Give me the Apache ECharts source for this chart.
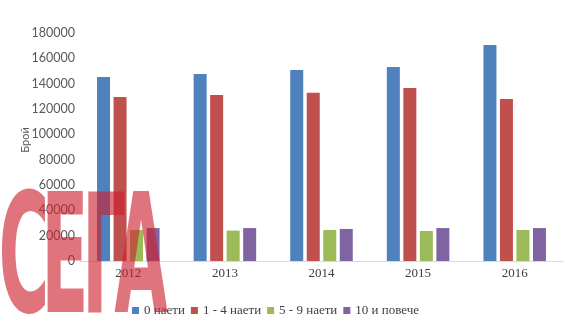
<!DOCTYPE html>
<html>
<head>
<meta charset="utf-8">
<script src="https://cdn.jsdelivr.net/npm/echarts@6/dist/echarts.min.js"></script>
<style>html,body{margin:0;padding:0;background:#fff;}#c{width:588px;height:322px;}</style>
</head>
<body>
<div id="c"></div>
<script>
var categories = ['2012', '2013', '2014', '2015', '2016'];
var seriesNames = ['0 наети', '1 - 4 наети', '5 - 9 наети', '10 и повече'];
var s0 = [145300, 147600, 150800, 153200, 170500];
var s1 = [129500, 131000, 132900, 136600, 127900];
var s2 = [24500, 24000, 24500, 23700, 24500];
var s3 = [26000, 26000, 25300, 26000, 26000];
var yTitle = 'Брой';
var watermark = ['С', 'Е', 'Г', 'А'];

var colors = ['#4f81bd', '#c0504d', '#9bbb59', '#8064a2'];
var chart = echarts.init(document.getElementById('c'), null, {renderer: 'canvas'});
var dataSets = [s0, s1, s2, s3];
var series = dataSets.map(function (d, i) {
  return {
    name: seriesNames[i], type: 'bar', data: d, barWidth: 13, barGap: '27%',
    itemStyle: {color: colors[i]}, z: 2
  };
});
var wmX = [24, 65, 104, 141];
var wm = watermark.map(function (ch, i) {
  return {
    type: 'text', x: wmX[i], y: 352, scaleX: 0.42, z: 100,
    style: {
      text: ch, x: 0, y: 0, textAlign: 'center', textVerticalAlign: 'bottom',
      font: 'bold 165px "DejaVu Sans"', fill: 'rgba(205,30,45,0.62)',
      shadowColor: 'rgba(110,110,110,0.9)', shadowOffsetX: 5, shadowOffsetY: 3
    }
  };
});
wm.push({
  type: 'text', x: 25, y: 140, rotation: Math.PI / 2, z: 10,
  style: {text: yTitle, x: 0, y: 0, textAlign: 'center', textVerticalAlign: 'middle',
    font: '11px Lato', fill: '#595959'}
});
chart.setOption({
  animation: false,
  color: colors,
  grid: {left: 80, right: 25, top: 33, bottom: 61},
  legend: {
    data: seriesNames, left: 132, top: 304, padding: 0, itemWidth: 7, itemHeight: 7, itemGap: 6,
    icon: 'rect',
    textStyle: {fontFamily: 'Liberation Serif', fontSize: 13, color: '#404040'}
  },
  xAxis: {
    type: 'category', data: categories,
    axisLine: {lineStyle: {color: '#d9d9d9'}},
    axisTick: {show: false},
    axisLabel: {fontFamily: 'Liberation Serif', fontSize: 13, color: '#404040', margin: 6}
  },
  yAxis: {
    type: 'value', min: 0, max: 180000, interval: 20000,
    axisLine: {show: false}, axisTick: {show: false}, splitLine: {show: false},
    axisLabel: {fontFamily: 'Lato', fontSize: 12.5, color: '#595959', margin: 5,
      formatter: function (v) { return String(v); }}
  },
  series: series,
  graphic: wm
});
</script>
</body>
</html>
